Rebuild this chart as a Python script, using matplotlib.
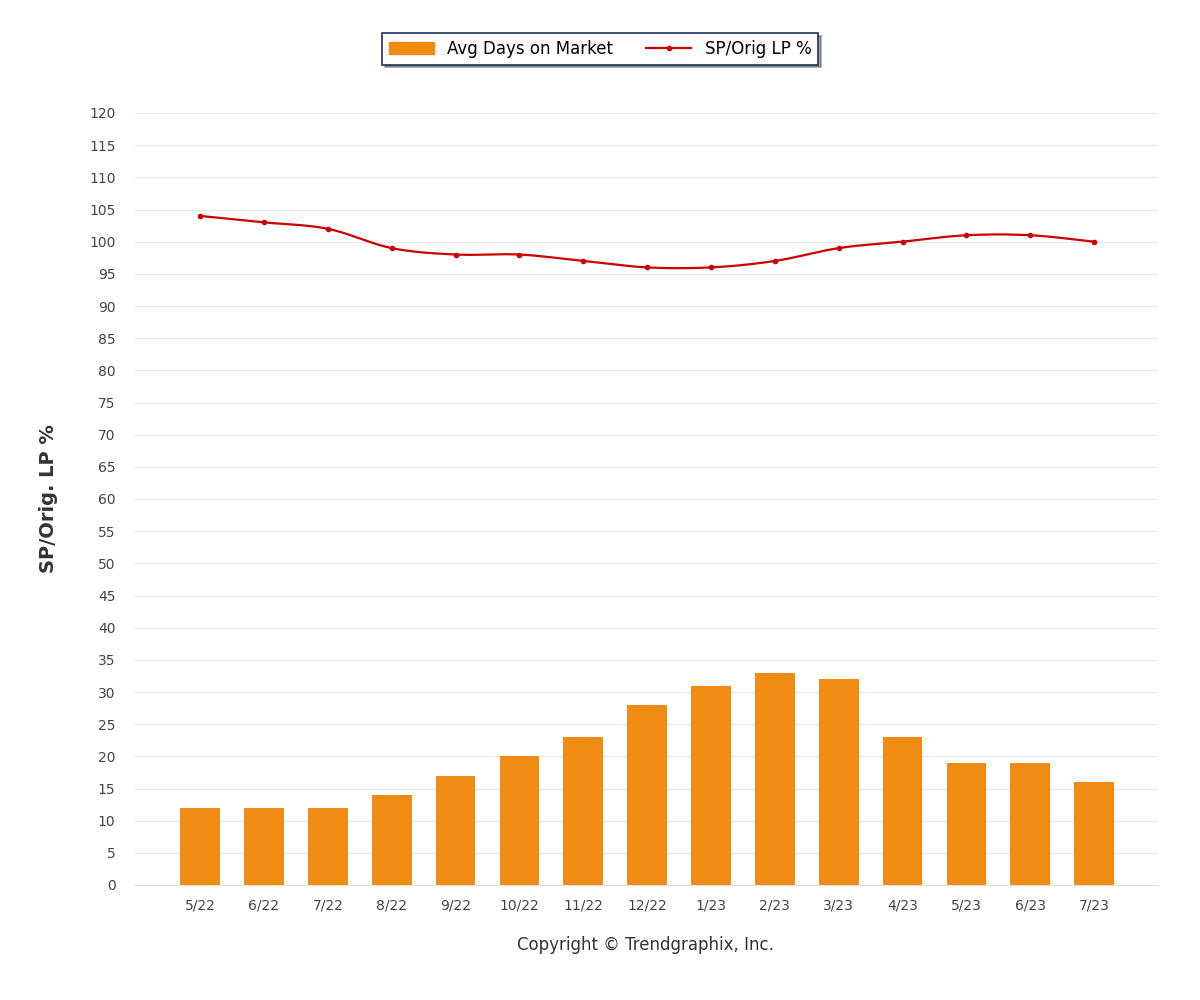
import matplotlib
matplotlib.use("Agg")
import matplotlib.pyplot as plt
import numpy as np

months = ["5/22","6/22","7/22","8/22","9/22","10/22","11/22","12/22","1/23","2/23","3/23","4/23","5/23","6/23","7/23"]
days_on_market = [12,12,12,14,17,20,23,28,31,33,32,23,19,19,16]
sp_orig_lp = [104,103,102,99,98,98,97,96,96,97,99,100,101,101,100]
yticks = list(range(0,121,5))

fig = plt.figure(figsize=(12,10), dpi=100)
ax = fig.add_axes([0.1125, 0.115, 0.8525, 0.772])
x = np.arange(len(months))
ax.bar(x, days_on_market, width=0.62, color="#F08C14", zorder=2, label="Avg Days on Market")

# smooth rendering (Catmull-Rom) through the data points
def smooth(xs, ys, n=20):
    xs = np.asarray(xs, float); ys = np.asarray(ys, float)
    px = np.concatenate([[2*xs[0]-xs[1]], xs, [2*xs[-1]-xs[-2]]])
    py = np.concatenate([[2*ys[0]-ys[1]], ys, [2*ys[-1]-ys[-2]]])
    ox, oy = [], []
    for i in range(1, len(px)-2):
        t = np.linspace(0,1,n,endpoint=False)
        for arr, out in ((px, ox), (py, oy)):
            p0,p1,p2,p3 = arr[i-1],arr[i],arr[i+1],arr[i+2]
            out.extend(0.5*((2*p1)+(-p0+p2)*t+(2*p0-5*p1+4*p2-p3)*t**2+(-p0+3*p1-3*p2+p3)*t**3))
    ox.append(xs[-1]); oy.append(ys[-1])
    return ox, oy
sx, sy = smooth(x, sp_orig_lp)
ax.plot(sx, sy, color="#CC0000", lw=1.6, zorder=3)
ax.plot(x, sp_orig_lp, "o", color="#CC0000", ms=3, zorder=4)

ax.set_xlim(-1.02, 15.0)
ax.set_ylim(0, 120)
ax.set_yticks(yticks)
ax.set_xticks(x)
ax.set_xticklabels(months)
ax.tick_params(axis="y", length=0, labelsize=10, colors="#444444", pad=14)
ax.tick_params(axis="x", length=0, labelsize=10, colors="#444444", pad=10)
ax.grid(axis="y", color="#E8E8E8", lw=0.8, zorder=0)
for s in ["top","right","left"]:
    ax.spines[s].set_visible(False)
ax.spines["bottom"].set_color("#DDDDDD")
ax.set_ylabel("SP/Orig. LP %", fontsize=14, fontweight="bold", color="#333333", labelpad=22)

from matplotlib.patches import Patch
from matplotlib.lines import Line2D
handles = [Patch(color="#F08C14", label="Avg Days on Market"),
           Line2D([0],[0], color="#CC0000", lw=1.6, marker="o", ms=3, label="SP/Orig LP %")]
leg = fig.legend(handles=handles, loc="center", bbox_to_anchor=(0.5, 0.951), ncol=2,
                 fontsize=12, frameon=True, fancybox=False, shadow=True,
                 edgecolor="#1F2F5F", handlelength=2.7, columnspacing=2)
leg.get_frame().set_linewidth(1.2)
fig.text(0.538, 0.05, "Copyright © Trendgraphix, Inc.", ha="center", fontsize=12, color="#333333")
fig.savefig("out.png")
